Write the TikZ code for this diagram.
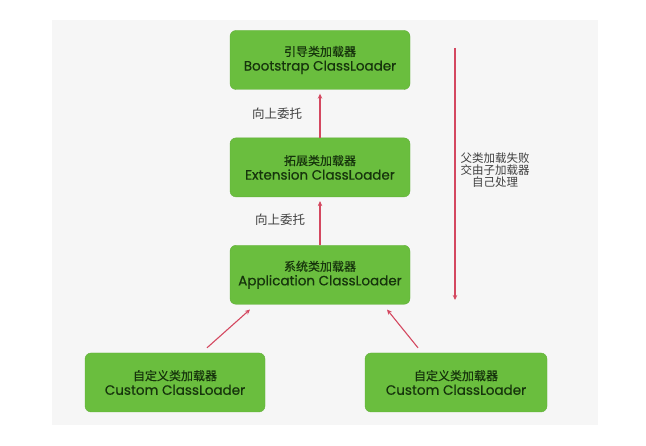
\documentclass[tikz,border=0pt]{standalone}
\usepackage{fontspec}
\setmainfont{Poppins}
\newfontfamily\boxfont{Poppins}[FakeBold=0.6]
\newfontfamily\cjk{Noto Sans CJK SC}
\newfontfamily\boxcjk{Noto Sans CJK SC}[FakeBold=0.5]
\usepackage{tikz}
\usetikzlibrary{positioning}
\usetikzlibrary{arrows.meta}

\definecolor{loadergreen}{RGB}{106,190,62}
\definecolor{loadertext}{RGB}{22,52,12}
\definecolor{delegred}{RGB}{212,72,96}
\definecolor{panelgray}{RGB}{246,246,246}

\begin{document}
\begin{tikzpicture}[
		x=1pt, y=-1pt,
		every node/.style={font=\fontsize{11}{14}\selectfont},
		loader/.style={draw=loadergreen!92!black, fill=loadergreen, rounded corners=6pt, minimum width=180pt, minimum height=59pt, align=center, text=loadertext, inner sep=0pt, font=\boxfont\fontsize{13.5}{14.5}\selectfont},
		delegarrow/.style={draw=delegred, line width=1.1pt, -{Stealth[length=5pt, width=4.5pt]}},
		note/.style={text=black!75, align=center, font=\cjk\fontsize{12.5}{13}\selectfont}
	]

	% Background panel
	\useasboundingbox (0,0) rectangle (646,446);
	\fill[panelgray] (52,20) rectangle (598,425);

	% Loader chain
	\node[loader] (boot) at (320,60) {{\boxcjk\fontsize{12}{14.5}\selectfont 引导类加载器}\\Bootstrap ClassLoader};
	\node[loader, below=48pt of boot] (ext) {{\boxcjk\fontsize{12}{14.5}\selectfont 拓展类加载器}\\Extension ClassLoader};
	\node[loader, below=48pt of ext] (app) {{\boxcjk\fontsize{12}{14.5}\selectfont 系统类加载器}\\Application ClassLoader};

	% Custom loaders
	\node[loader] (custL) at (175,382.5) {{\boxcjk\fontsize{12}{14.5}\selectfont 自定义类加载器}\\Custom ClassLoader};
	\node[loader, minimum width=182pt] (custR) at (456,382.5) {{\boxcjk\fontsize{12}{14.5}\selectfont 自定义类加载器}\\Custom ClassLoader};

	% Delegation upwards
	\draw[delegarrow] (ext.north) -- ([yshift=-4pt]boot.south);
	\draw[delegarrow] (app.north) -- ([yshift=-4pt]ext.south);
	\node[note] (up1) at (277,114) {向上委托};
	\node[note] (up2) at (280,220) {向上委托};

	\draw[delegarrow] ([xshift=32pt, yshift=5pt]custL.north) -- ([xshift=-70pt, yshift=-5pt]app.south);
	\draw[delegarrow] ([xshift=-38pt, yshift=5pt]custR.north) -- ([xshift=67pt, yshift=-5pt]app.south);

	% Parent fails, child handles it
	\coordinate (failtop) at (455,48);
	\coordinate (failbot) at (455,300);
	\draw[delegarrow] (failtop) -- (failbot);
	\node[note, font=\cjk\fontsize{11.5}{12}\selectfont] (fail) at (495,170) {父类加载失败\\交由子加载器\\自己处理};

\end{tikzpicture}
\end{document}
